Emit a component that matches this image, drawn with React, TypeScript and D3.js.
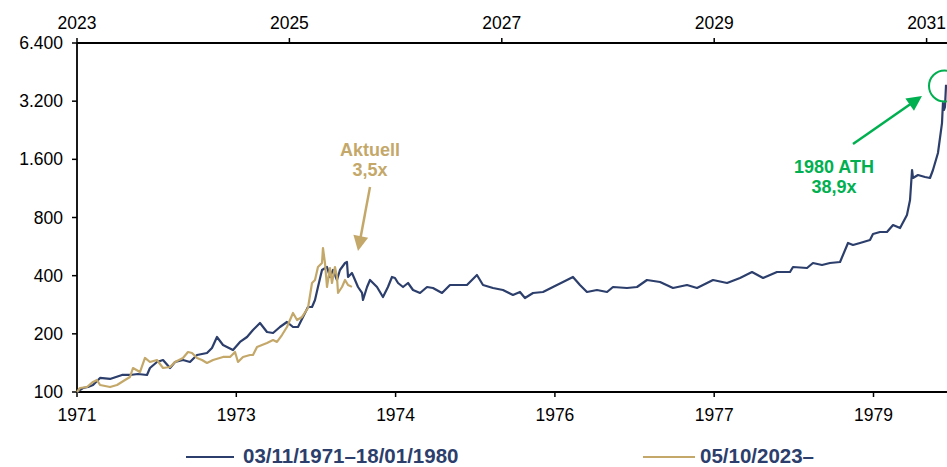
import React from "react";
import * as d3 from "d3";

// x = years since start of each episode, y = indexed price (start = 100)
const blueT = [0,0.056,0.104,0.151,0.217,0.311,0.424,0.499,0.574,0.659,0.687,0.753,0.81,0.876,0.923,0.998,1.064,1.13,1.224,1.271,1.318,1.375,1.412,1.469,1.535,1.601,1.657,1.723,1.789,1.846,1.911,1.977,2.034,2.081,2.128,2.175,2.213,2.241,2.269,2.307,2.354,2.382,2.411,2.448,2.476,2.524,2.542,2.552,2.589,2.618,2.646,2.684,2.693,2.731,2.759,2.825,2.881,2.928,2.966,2.994,3.023,3.07,3.117,3.164,3.23,3.296,3.352,3.437,3.512,3.578,3.672,3.719,3.766,3.823,3.917,4.011,4.105,4.171,4.218,4.294,4.388,4.482,4.614,4.67,4.736,4.802,4.896,4.991,5.047,5.179,5.273,5.367,5.49,5.612,5.744,5.838,5.989,6.121,6.243,6.356,6.46,6.591,6.714,6.742,6.874,6.93,7.015,7.09,7.185,7.26,7.307,7.373,7.467,7.495,7.561,7.627,7.684,7.75,7.815,7.844,7.863,7.872,7.919,7.985,8.032,8.06,8.107,8.145,8.154,8.164,8.173,8.183];
const blueV = [100,104.9,106.1,108.7,118.2,116.8,122.5,122.5,123.9,122.5,133.1,143,146.4,133.1,143,146.4,143,155.4,159.2,168.9,192.6,175.1,171,164.9,181.5,192.6,209.3,227.6,204.4,202,217,230.3,217,217,244.5,275.4,275.4,299.3,349.5,427.9,443.5,393.7,427.9,379.9,427.9,465.1,470.7,393.7,412.9,379.9,349.5,325.4,299.3,349.5,379.9,349.5,310.2,349.5,393.7,389,366.5,349.5,366.5,337.2,325.4,349.5,345.3,325.4,357.9,357.9,357.9,379.9,403.2,357.9,345.3,337.2,317.7,329.3,306.5,325.4,329.3,349.5,379.9,393.7,357.9,329.3,337.2,329.3,349.5,345.3,349.5,379.9,370.9,345.3,357.9,345.3,379.9,366.5,389,417.9,389,417.9,417.9,443.5,438.2,465.1,454.2,465.1,470.7,590.4,576.5,590.4,611.9,657,673,673,731.5,705.9,824.1,985.4,1409,1281,1327,1296,1281,1409,1725,2466,3130,2880,2985,3890];

const goldT = [0,0.028,0.094,0.151,0.188,0.217,0.311,0.377,0.452,0.499,0.527,0.593,0.64,0.687,0.753,0.81,0.876,0.923,0.998,1.045,1.083,1.13,1.177,1.224,1.281,1.375,1.441,1.488,1.516,1.563,1.629,1.657,1.695,1.789,1.846,1.883,1.93,1.977,2.034,2.072,2.119,2.175,2.213,2.241,2.269,2.307,2.316,2.335,2.354,2.382,2.401,2.429,2.448,2.458,2.495,2.524,2.552,2.589];
const goldV = [100,104.9,106.1,112.7,115.4,108.7,106.1,108.7,115.4,119.6,133.1,126.9,150,143,146.4,133.1,134.7,143,150,161.1,159.2,150,146.4,141.3,146.4,151.8,151.8,161.1,143,151.8,155.4,155.4,171,179.3,185.8,181.5,197.2,217,256.4,235.9,244.5,272.1,366.5,379.9,443.5,465.1,556.2,465.1,349.5,438.2,366.5,443.5,393.7,325.4,349.5,379.9,357.9,350];

const yTicks = [100, 200, 400, 800, 1600, 3200, 6400];
const yTickLabels = ["100", "200", "400", "800", "1.600", "3.200", "6.400"];
const bottomTicks = [0, 1.5, 3, 4.5, 6, 7.5];
const bottomLabels = ["1971", "1973", "1974", "1976", "1977", "1979"];
const topTicks = [0, 2, 4, 6, 8];
const topLabels = ["2023", "2025", "2027", "2029", "2031"];
const seriesNames = ["03/11/1971–18/01/1980", "05/10/2023–"];

const NAVY = "#2c3e6b";
const GOLD = "#c4a86a";
const GREEN = "#00b050";
const FONT = "'Liberation Sans', Arial, sans-serif";

export default function App() {
  const W = 947, H = 467;
  const left = 77, top = 43, bottom = 392;
  const x = d3.scaleLinear().domain([0, 8.2]).range([left, left + 8.2 * 106.2]);
  const y = d3.scaleLog().base(2).domain([100, 6400]).range([bottom, top]);
  const mk = (ts: number[], vs: number[]) =>
    d3.line<number>()
      .x((t) => x(t))
      .y((_, i) => y(vs[i]))(ts) as string;

  const arrowHead = (x1: number, y1: number, x2: number, y2: number, len: number, w: number) => {
    const ang = Math.atan2(y2 - y1, x2 - x1);
    const bx = x2 - len * Math.cos(ang), by = y2 - len * Math.sin(ang);
    const px = -Math.sin(ang) * w / 2, py = Math.cos(ang) * w / 2;
    return `M${x2},${y2}L${bx + px},${by + py}L${bx - px},${by - py}Z`;
  };
  const ga = { x1: 853, y1: 144, x2: 922, y2: 96 };
  const oa = { x1: 370, y1: 187, x2: 358, y2: 251 };
  const shorten = (a: any, l: number) => {
    const ang = Math.atan2(a.y2 - a.y1, a.x2 - a.x1);
    return { x: a.x2 - l * Math.cos(ang), y: a.y2 - l * Math.sin(ang) };
  };
  const gEnd = shorten(ga, 10);
  const oEnd = shorten(oa, 10);

  return (
    <div style={{ position: "fixed", left: 0, top: 0, width: W, height: H, background: "#fff" }}>
      <svg width={W} height={H} style={{ display: "block", fontFamily: FONT }}>
        {/* axes */}
        <line x1={left} x2={W} y1={top} y2={top} stroke="#000" strokeWidth={1.8} />
        <line x1={left} x2={W} y1={bottom} y2={bottom} stroke="#000" strokeWidth={1.8} />
        <line x1={left} x2={left} y1={top} y2={bottom} stroke="#000" strokeWidth={1.8} />
        {yTicks.map((v, i) => (
          <g key={"y" + i}>
            <line x1={left - 5} x2={left} y1={y(v)} y2={y(v)} stroke="#000" strokeWidth={1.5} />
            <text x={63} y={y(v) + 6} textAnchor="end" fontSize={17.5} fill="#000">{yTickLabels[i]}</text>
          </g>
        ))}
        {bottomTicks.map((t, i) => (
          <g key={"b" + i}>
            <line x1={x(t)} x2={x(t)} y1={bottom} y2={bottom + 5} stroke="#000" strokeWidth={1.5} />
            <text x={x(t)} y={421} textAnchor="middle" fontSize={17.5} fill="#000">{bottomLabels[i]}</text>
          </g>
        ))}
        {topTicks.map((t, i) => (
          <g key={"t" + i}>
            <line x1={x(t)} x2={x(t)} y1={top - 5} y2={top} stroke="#000" strokeWidth={1.5} />
            <text x={x(t)} y={29} textAnchor="middle" fontSize={17.5} fill="#000">{topLabels[i]}</text>
          </g>
        ))}

        {/* series */}
        <path d={mk(blueT, blueV)} fill="none" stroke={NAVY} strokeWidth={2.2} strokeLinejoin="round" />
        <path d={mk(goldT, goldV)} fill="none" stroke={GOLD} strokeWidth={2.2} strokeLinejoin="round" />

        {/* annotations */}
        <circle cx={944.5} cy={86} r={15.5} fill="none" stroke={GREEN} strokeWidth={2} />
        <line x1={ga.x1} y1={ga.y1} x2={gEnd.x} y2={gEnd.y} stroke={GREEN} strokeWidth={2.5} />
        <path d={arrowHead(ga.x1, ga.y1, ga.x2, ga.y2, 15, 15)} fill={GREEN} />
        <text x={834} y={173} textAnchor="middle" fontSize={18} fontWeight="bold" fill={GREEN}>1980 ATH</text>
        <text x={834} y={193} textAnchor="middle" fontSize={18} fontWeight="bold" fill={GREEN}>38,9x</text>

        <line x1={oa.x1} y1={oa.y1} x2={oEnd.x} y2={oEnd.y} stroke={GOLD} strokeWidth={2.5} />
        <path d={arrowHead(oa.x1, oa.y1, oa.x2, oa.y2, 15, 15)} fill={GOLD} />
        <text x={370} y={156} textAnchor="middle" fontSize={18} fontWeight="bold" fill={GOLD}>Aktuell</text>
        <text x={370} y={176} textAnchor="middle" fontSize={18} fontWeight="bold" fill={GOLD}>3,5x</text>

        {/* legend */}
        <line x1={186} x2={234} y1={457} y2={457} stroke={NAVY} strokeWidth={2} />
        <text x={243} y={463} fontSize={20.5} fontWeight="bold" fill={NAVY}>{seriesNames[0]}</text>
        <line x1={643} x2={695} y1={457} y2={457} stroke={GOLD} strokeWidth={2} />
        <text x={700} y={463} fontSize={20.5} fontWeight="bold" fill={NAVY}>{seriesNames[1]}</text>
      </svg>
    </div>
  );
}
